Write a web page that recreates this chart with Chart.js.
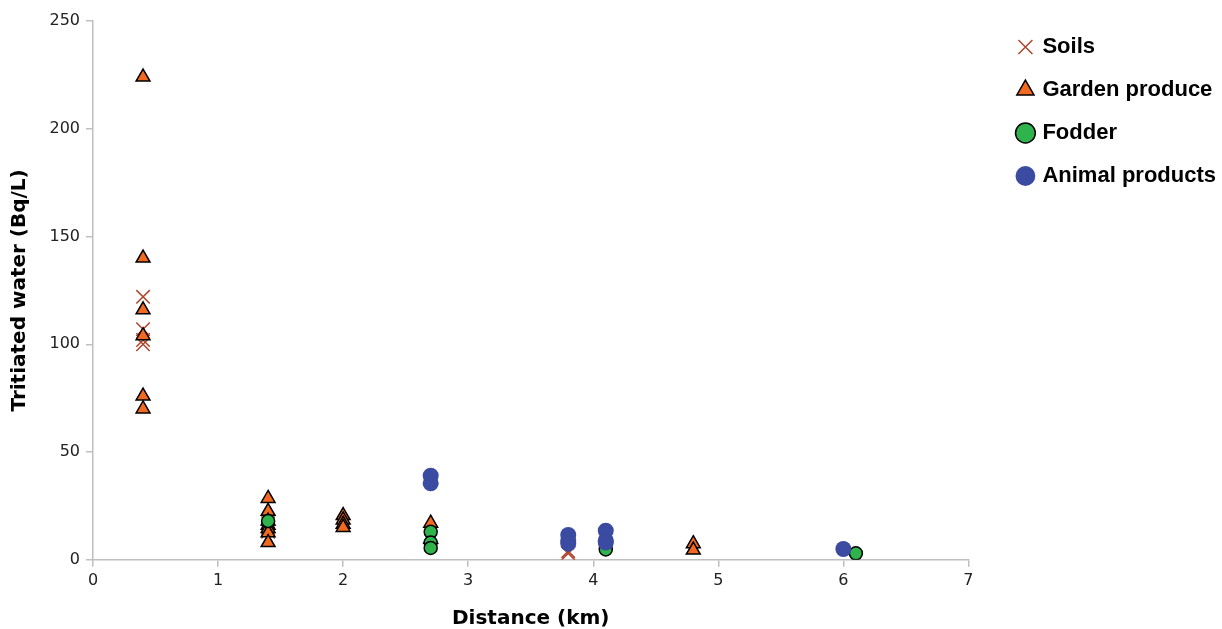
<!DOCTYPE html>
<html>
<head>
<meta charset="utf-8">
<script src="https://cdn.jsdelivr.net/npm/chart.js@4"></script>
<style>
  html, body { margin: 0; padding: 0; background: #fff; }
  #wrap { width: 1222px; height: 629px; position: relative; }
</style>
</head>
<body>
<div id="wrap"><canvas id="chart"></canvas></div>
<script>
// distance (km) and tritiated water (Bq/L) per sample group
const soilsX = [0.4, 0.4, 0.4, 0.4, 1.4, 1.4, 1.4, 3.8, 3.8];
const soilsY = [122, 107, 102, 100, 17, 15, 13, 4, 3];

const gardenX = [0.4, 0.4, 0.4, 0.4, 0.4, 0.4, 1.4, 1.4, 1.4, 1.4, 1.4, 1.4, 1.4, 2, 2, 2, 2, 2.7, 2.7, 4.8, 4.8];
const gardenY = [224, 140, 116, 104, 76, 70, 28.5, 22.5, 18, 16, 14.5, 12.5, 8, 20.5, 18.5, 16.5, 15, 17, 9.5, 7.5, 4.5];

const fodderX = [1.4, 2.7, 2.7, 2.7, 4.1, 6.1];
const fodderY = [18, 13, 8, 5.5, 4.8, 3];

const animalX = [2.7, 2.7, 3.8, 3.8, 3.8, 4.1, 4.1, 4.1, 6];
const animalY = [39, 35.5, 11.5, 9, 7.5, 13.5, 9, 8, 5];

const xTicks = [0, 1, 2, 3, 4, 5, 6, 7];
const yTicks = [0, 50, 100, 150, 200, 250];

function pts(xs, ys) {
  return xs.map((x, i) => ({ x: x, y: ys[i] }));
}

const tickFont = { family: 'DejaVu Sans', size: 16 };
const titleFont = { family: 'DejaVu Sans', size: 20, weight: 'bold', lineHeight: 1 };

// leave a gap between plot area and legend (Excel style)
const LEGEND_GAP = 20;
const LEGEND_SHIFT = 30;
const legendGap = {
  id: 'legendGap',
  beforeInit(chart) {
    const lg = chart.legend;
    const fit = lg.fit;
    lg.fit = function () {
      fit.call(this);
      this.width += LEGEND_GAP;
    };
  },
  afterLayout(chart) {
    chart.legend.left += LEGEND_SHIFT;
    chart.legend.top -= 6;
  }
};

new Chart(document.getElementById('chart'), {
  type: 'scatter',
  data: {
    datasets: [
      {
        label: 'Soils', data: pts(soilsX, soilsY), order: 4,
        pointStyle: 'crossRot', pointRadius: 9.5, pointBorderWidth: 1.5,
        borderColor: '#b0452c', backgroundColor: '#b0452c'
      },
      {
        label: 'Garden produce', data: pts(gardenX, gardenY), order: 3,
        pointStyle: 'triangle', pointRadius: 8, pointBorderWidth: 1.5,
        borderColor: '#000', backgroundColor: '#f26a21'
      },
      {
        label: 'Fodder', data: pts(fodderX, fodderY), order: 2,
        pointStyle: 'circle', pointRadius: 6.5, pointBorderWidth: 1.5,
        borderColor: '#000', backgroundColor: '#2fb34d'
      },
      {
        label: 'Animal products', data: pts(animalX, animalY), order: 1,
        pointStyle: 'circle', pointRadius: 8, pointBorderWidth: 0,
        borderColor: '#3a4ba1', backgroundColor: '#3a4ba1'
      }
    ]
  },
  options: {
    responsive: true,
    maintainAspectRatio: false,
    animation: false,
    layout: { padding: { top: 21, right: 6, bottom: 0, left: 4 } },
    plugins: {
      tooltip: { enabled: false },
      legend: {
        position: 'right',
        align: 'start',
        reverse: true,
        labels: {
          usePointStyle: true,
          boxWidth: 12,
          boxHeight: 14,
          padding: 21,
          color: '#000',
          font: { family: 'Liberation Sans', size: 22, weight: 'bold' }
        }
      }
    },
    scales: {
      x: {
        type: 'linear',
        min: 0, max: 7,
        afterBuildTicks: axis => { axis.ticks = xTicks.map(v => ({ value: v })); },
        grid: { display: true, drawOnChartArea: false, drawTicks: true, tickLength: 7, color: '#bfbfbf', lineWidth: 1.5 },
        border: { display: true, color: '#bfbfbf', width: 1.5 },
        ticks: { color: '#222', font: tickFont, padding: 4, maxRotation: 0 },
        title: { display: true, text: 'Distance (km)', color: '#000', font: titleFont, padding: { top: 15, bottom: 0 } }
      },
      y: {
        type: 'linear',
        min: 0, max: 250,
        afterBuildTicks: axis => { axis.ticks = yTicks.map(v => ({ value: v })); },
        grid: { display: true, drawOnChartArea: false, drawTicks: true, tickLength: 7, color: '#bfbfbf', lineWidth: 1.5 },
        border: { display: true, color: '#bfbfbf', width: 1.5 },
        ticks: { color: '#222', font: tickFont, padding: 6 },
        title: { display: true, text: 'Tritiated water (Bq/L)', color: '#000', font: titleFont, padding: { top: 5.5, bottom: 14 } }
      }
    }
  },
  plugins: [legendGap]
});
</script>
</body>
</html>
